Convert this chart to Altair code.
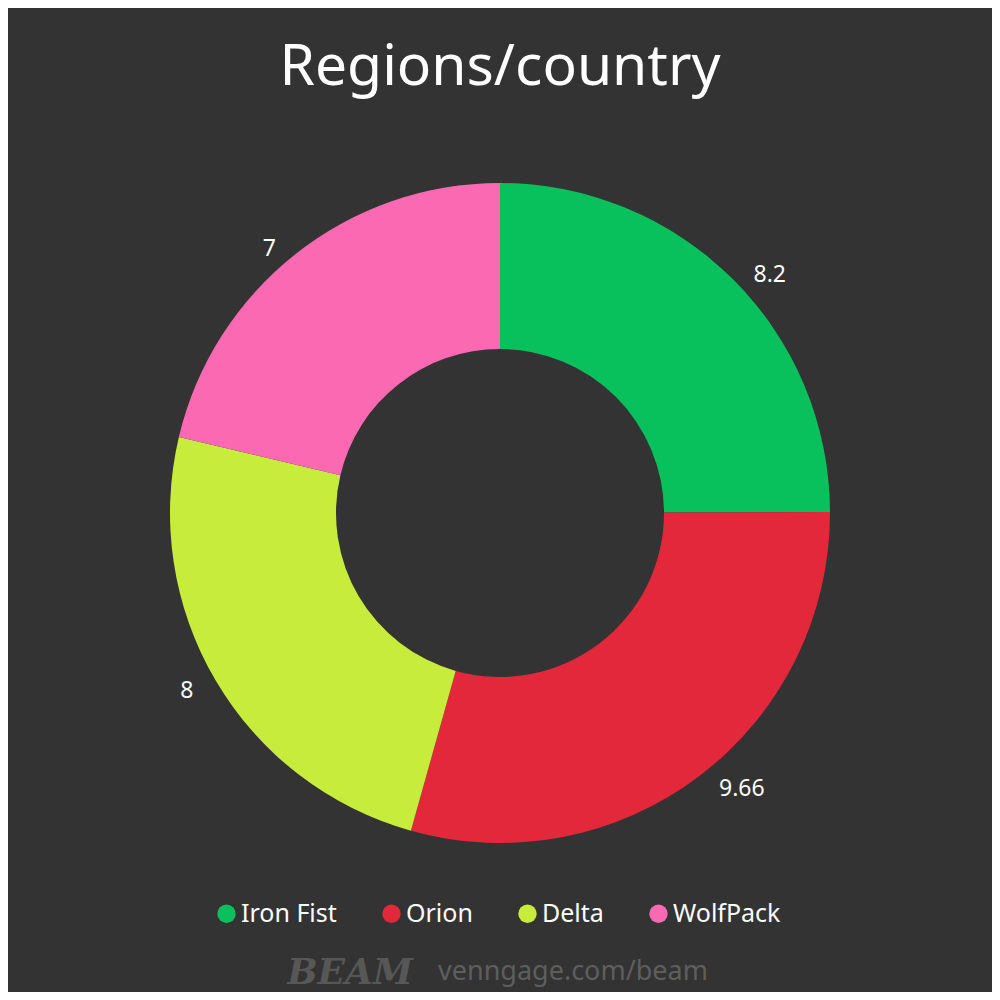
import altair as alt
import pandas as pd

teams = ["Iron Fist", "Orion", "Delta", "WolfPack"]
values = [8.2, 9.66, 8, 7]
labels = ["8.2", "9.66", "8", "7"]
colors = ["#08c15d", "#e3283b", "#c8ec3c", "#fc69b3"]
title_text = "Regions/country"
footer_logo = "BEAM"
footer_url = "venngage.com/beam"

df = pd.DataFrame({"team": teams, "value": values, "label": labels, "order": list(range(len(teams)))})

W = H = 984
CX, CY = 492, 505

arcs = alt.Chart(df).mark_arc(outerRadius=330, innerRadius=164, stroke=None).encode(
    theta=alt.Theta("value:Q", stack=True, scale=alt.Scale(zero=True)),
    order=alt.Order("order:Q"),
    color=alt.Color(
        "team:N",
        scale=alt.Scale(domain=teams, range=colors),
        legend=alt.Legend(
            title=None, orient="none", legendX=206, legendY=893,
            direction="horizontal", symbolType="circle", symbolSize=340,
            symbolStrokeWidth=0, symbolOpacity=1,
            labelFontSize=25, labelColor="white", labelFont="Noto Sans",
            columnPadding=42, labelOffset=2, padding=0,
        ),
    ),
    x=alt.value(CX), y=alt.value(CY),
)

# label layer: stack explicitly, place at slice midpoint, align away from centre
lab_base = alt.Chart(df).transform_stack(
    stack="value", groupby=[], as_=["v0", "v1"], sort=[alt.SortField("order")]
).transform_calculate(
    mid="(datum.v0 + datum.v1) / 2",
    frac="(datum.v0 + datum.v1) / 2 / " + str(sum(values)),
)

text_right = lab_base.transform_filter("datum.frac <= 0.5").mark_text(
    radius=342, fontSize=23, font="Noto Sans", color="white", align="left", baseline="middle",
    dx=12, dy=4,
).encode(
    theta=alt.Theta("mid:Q"),
    text="label:N",
    x=alt.value(CX), y=alt.value(CY),
)
text_left = lab_base.transform_filter("datum.frac > 0.5").mark_text(
    radius=342, fontSize=23, font="Noto Sans", color="white", align="right", baseline="middle",
    dx=-12, dy=4,
).encode(
    theta=alt.Theta("mid:Q"),
    text="label:N",
    x=alt.value(CX), y=alt.value(CY),
)

title = alt.Chart(pd.DataFrame({"t": [title_text]})).mark_text(
    fontSize=57, font="Noto Sans", color="white", baseline="alphabetic", align="center"
).encode(text="t:N", x=alt.value(CX), y=alt.value(77))

logo = alt.Chart(pd.DataFrame({"t": [footer_logo]})).mark_text(
    fontSize=36, font="DejaVu Serif", fontWeight="bold", fontStyle="italic", color="#575757",
    baseline="alphabetic", align="center"
).encode(text="t:N", x=alt.value(342), y=alt.value(976))

url = alt.Chart(pd.DataFrame({"t": [footer_url]})).mark_text(
    fontSize=27, font="Noto Sans", color="#5e5e5e", baseline="alphabetic", align="left"
).encode(text="t:N", x=alt.value(430), y=alt.value(972))

chart = alt.layer(arcs, text_right, text_left, title, logo, url).resolve_scale(
    theta="shared"
).properties(
    width=W, height=H, background="#333333", padding=0,
    autosize=alt.AutoSizeParams(type="none"),
).configure_view(stroke=None)

chart.save("out.html", embed_options={"renderer": "svg", "actions": False})
